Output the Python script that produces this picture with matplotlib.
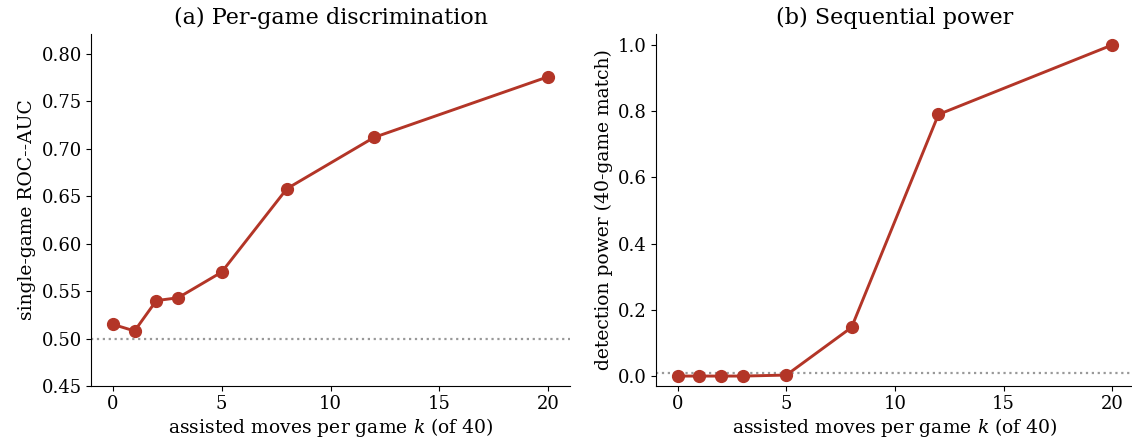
import numpy as np
import matplotlib.pyplot as plt

# assisted moves per game (out of 40)
k_values = [0, 1, 2, 3, 5, 8, 12, 20]
auc_values = [0.515, 0.508, 0.540, 0.543, 0.570, 0.658, 0.712, 0.776]
power_values = [0.0, 0.0, 0.0, 0.0, 0.003, 0.147, 0.790, 1.0]
auc_chance = 0.5
alpha_level = 0.01

LINE_COLOR = "#b33527"
REF_COLOR = "#999999"

plt.rcParams['font.family'] = ['DejaVu Serif']
plt.rcParams['mathtext.fontset'] = 'dejavuserif'

W, H = 1132, 442
fig = plt.figure(figsize=(W / 100, H / 100), dpi=100)

bottom = (H - 386) / H
height = (386 - 34) / H
ax1 = fig.add_axes([91 / W, bottom, (570 - 91) / W, height])
ax2 = fig.add_axes([656 / W, bottom, (1134 - 656) / W, height])

for ax in (ax1, ax2):
    ax.spines['top'].set_visible(False)
    ax.spines['right'].set_visible(False)
    ax.tick_params(labelsize=13, length=3.5, pad=3)
    ax.set_xlim(-1, 21)
    ax.set_xticks([0, 5, 10, 15, 20])
    ax.set_xlabel("assisted moves per game $k$ (of 40)", fontsize=13.5, labelpad=2)

# (a) per-game AUC
ax1.axhline(auc_chance, color=REF_COLOR, linestyle=':', linewidth=1.6, zorder=1)
ax1.plot(k_values, auc_values, color=LINE_COLOR, marker='o', markersize=8.5, linewidth=2.1, zorder=3)
ax1.set_ylim(0.45, 0.821)
ax1.set_yticks(np.arange(0.45, 0.801, 0.05))
ax1.set_yticklabels([f"{v:.2f}" for v in np.arange(0.45, 0.801, 0.05)])
ax1.set_ylabel("single-game ROC--AUC", fontsize=13.5)
ax1.set_title("(a) Per-game discrimination", fontsize=16, pad=7)

# (b) sequential power
ax2.axhline(alpha_level, color=REF_COLOR, linestyle=':', linewidth=1.6, zorder=1)
ax2.plot(k_values, power_values, color=LINE_COLOR, marker='o', markersize=8.5, linewidth=2.1, zorder=3)
ax2.set_ylim(-0.03, 1.033)
ax2.set_yticks([0.0, 0.2, 0.4, 0.6, 0.8, 1.0])
ax2.set_yticklabels([f"{v:.1f}" for v in [0.0, 0.2, 0.4, 0.6, 0.8, 1.0]])
ax2.set_ylabel("detection power (40-game match)", fontsize=13.5)
ax2.set_title("(b) Sequential power", fontsize=16, pad=7)

fig.savefig("out.png", dpi=100)
